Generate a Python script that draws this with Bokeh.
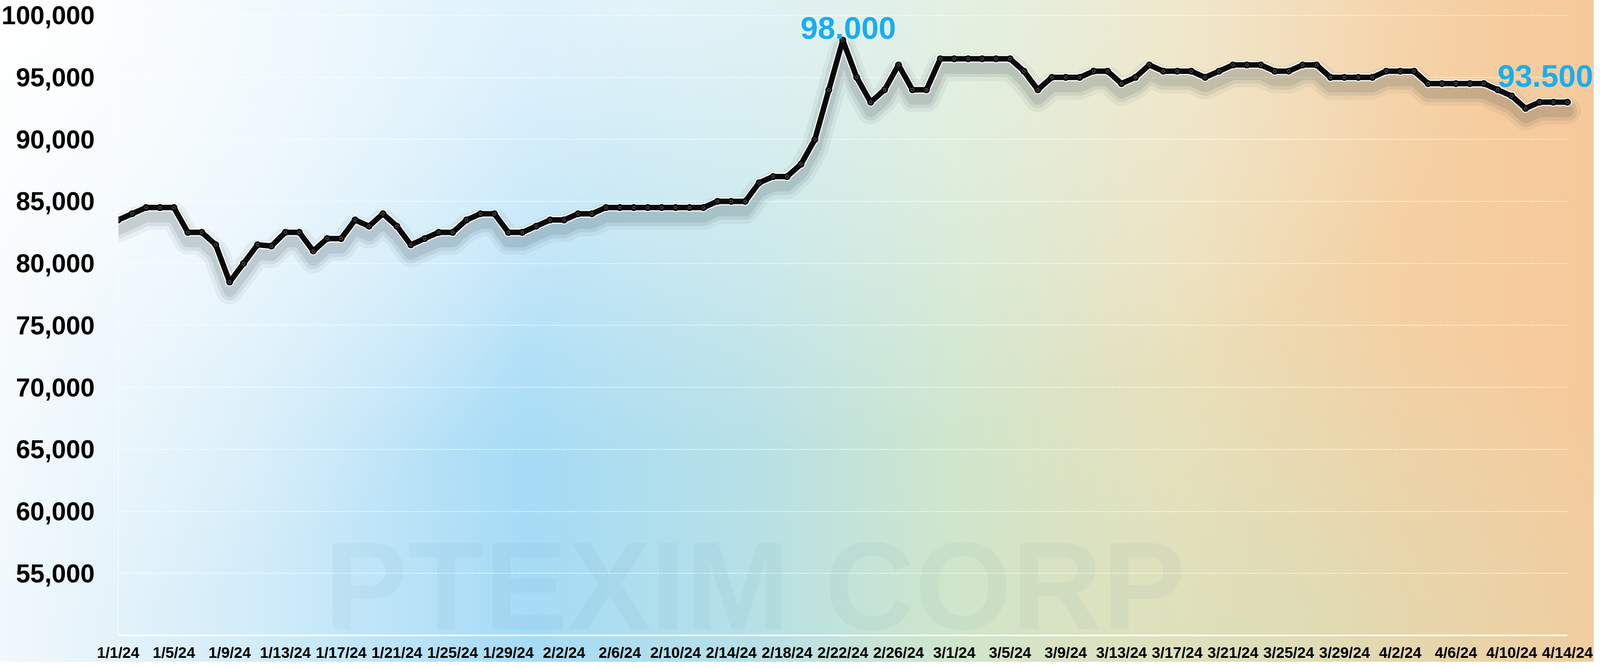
import numpy as np
from bokeh.plotting import figure
from bokeh.models import Range1d, FixedTicker, ColumnDataSource, NumeralTickFormatter
from bokeh.core.properties import value
from bokeh.embed import file_html
from bokeh.resources import INLINE

# ---- data -------------------------------------------------------------
tick_labels = ["1/1/24", "1/5/24", "1/9/24", "1/13/24", "1/17/24", "1/21/24", "1/25/24",
               "1/29/24", "2/2/24", "2/6/24", "2/10/24", "2/14/24", "2/18/24", "2/22/24",
               "2/26/24", "3/1/24", "3/5/24", "3/9/24", "3/13/24", "3/17/24", "3/21/24",
               "3/25/24", "3/29/24", "4/2/24", "4/6/24", "4/10/24", "4/14/24"]

prices = [83500, 84000, 84500, 84500, 84500, 82500, 82500, 81500, 78500, 80000,
          81500, 81400, 82500, 82500, 81000, 82000, 82000, 83500, 83000, 84000,
          83000, 81500, 82000, 82500, 82500, 83500, 84000, 84000, 82500, 82500,
          83000, 83500, 83500, 84000, 84000, 84500, 84500, 84500, 84500, 84500,
          84500, 84500, 84500, 85000, 85000, 85000, 86500, 87000, 87000, 88000,
          90000, 94000, 98000, 95000, 93000, 94000, 96000, 94000, 94000, 96500,
          96500, 96500, 96500, 96500, 96500, 95500, 94000, 95000, 95000, 95000,
          95500, 95500, 94500, 95000, 96000, 95500, 95500, 95500, 95000, 95500,
          96000, 96000, 96000, 95500, 95500, 96000, 96000, 95000, 95000, 95000,
          95000, 95500, 95500, 95500, 94500, 94500, 94500, 94500, 94500, 94000,
          93500, 92500, 93000, 93000, 93000]

y_ticks = [55000, 60000, 65000, 70000, 75000, 80000, 85000, 90000, 95000, 100000]
callouts = ["98.000", "93.500"]
watermark = "PTEXIM CORP"

days = list(range(len(prices)))
tick_pos = days[::4]
last = len(prices) - 1

# ---- figure -----------------------------------------------------------
p = figure(width=4080, height=1694, output_backend="svg", toolbar_location=None,
           x_range=Range1d(0, last + 1.905), y_range=Range1d(50000, 101224),
           min_border_left=300, min_border_right=0, min_border_top=0,
           min_border_bottom=62)
p.background_fill_alpha = 0
p.border_fill_alpha = 0
p.outline_line_color = None
p.styles = {
    "background-image": (
        "radial-gradient(ellipse 40% 95% at 0% 0%, rgba(255,255,255,0.95) 0%, rgba(255,255,255,0) 100%),"
        "radial-gradient(ellipse 55% 70% at 40% 0%, rgba(255,255,255,0.65) 0%, rgba(255,255,255,0) 100%),"
        "radial-gradient(ellipse 28% 55% at 80% 100%, rgba(205,225,190,0.55) 0%, rgba(205,225,190,0) 100%),"
        "linear-gradient(90deg, #f1f8fc 0%, #d2ecf9 16%, #a6dbf6 33%, #b6e0e6 47%, "
        "#d0e6cd 60%, #ebe0bb 74%, #f5d0a3 88%, #f6c99a 100%)"
    )
}

# watermark (kept fully inside the plot area)
wm_src = ColumnDataSource(dict(x=[45.7], y=[54000], t=[watermark]))
p.text("x", "y", text="t", source=wm_src, text_align="center", text_baseline="alphabetic",
       text_font=value("Liberation Sans"), text_font_style="bold", text_font_size="320px",
       text_color="#3c6e8c", text_alpha=0.05)

# axes
p.xaxis.ticker = FixedTicker(ticks=tick_pos)
p.xaxis.major_label_overrides = {t: lab for t, lab in zip(tick_pos, tick_labels)}
p.xaxis.bounds = (0, last)
p.xaxis.major_label_text_font = "Liberation Sans"
p.xaxis.major_label_text_font_style = "bold"
p.xaxis.major_label_text_font_size = "39px"
p.xaxis.major_label_text_color = "#000000"
p.xaxis.major_label_standoff = 16
p.xaxis.axis_line_color = "white"
p.xaxis.axis_line_width = 4
p.xaxis.axis_line_alpha = 0.9
p.xaxis.major_tick_line_color = None
p.xaxis.minor_tick_line_color = None

p.yaxis.ticker = FixedTicker(ticks=y_ticks)
p.yaxis.formatter = NumeralTickFormatter(format="0,0")
p.yaxis.major_label_text_font = "Liberation Sans"
p.yaxis.major_label_text_font_style = "bold"
p.yaxis.major_label_text_font_size = "66px"
p.yaxis.major_label_text_color = "#000000"
p.yaxis.major_label_standoff = 54
p.yaxis.axis_line_color = "white"
p.yaxis.axis_line_width = 2
p.yaxis.axis_line_alpha = 0.6
p.yaxis.major_tick_line_color = None
p.yaxis.minor_tick_line_color = None

p.xgrid.grid_line_color = None
p.ygrid.ticker = FixedTicker(ticks=y_ticks)
p.ygrid.grid_line_color = "white"
p.ygrid.grid_line_width = 3
p.ygrid.grid_line_alpha = 0.75
p.ygrid.grid_line_dash = "3 3"
try:
    p.ygrid.cross_bounds = (0, last)
except Exception:
    pass

# line with shadow, white halo and markers
src = ColumnDataSource(dict(x=days, y=prices, ys=[v - 700 for v in prices]))
for w, a in [(70, 0.05), (50, 0.07), (32, 0.09)]:
    p.line("x", "ys", source=src, line_width=w, line_color="#102030", line_alpha=a,
           line_join="round", line_cap="round")
p.line("x", "y", source=src, line_width=20, line_color="white", line_alpha=0.9,
       line_join="round", line_cap="round")
p.scatter("x", "y", source=src, size=23, fill_color="white", fill_alpha=0.9, line_color=None)
p.line("x", "y", source=src, line_width=14, line_color="#0a0a0a", line_join="round",
       line_cap="round")
p.scatter("x", "y", source=src, size=18, fill_color="#0a0a0a", line_color=None)
p.scatter("x", "y", source=src, size=7, fill_color=None, line_color="#6a6a6a", line_width=1.4)

# value callouts
peak = int(np.argmax(prices))
lab_src = ColumnDataSource(dict(x=[peak, last], y=[prices[peak], prices[last]], t=callouts,
                                xo=[14, 66], yo=[-31, -67], al=["center", "right"]))
p.text("x", "y", text="t", source=lab_src, x_offset="xo", y_offset="yo",
       text_align="al", text_baseline="alphabetic", text_font=value("Liberation Sans"),
       text_font_style="bold", text_font_size="80px", text_color="#18AEEF")

open("out.html", "w").write(file_html(p, INLINE))
